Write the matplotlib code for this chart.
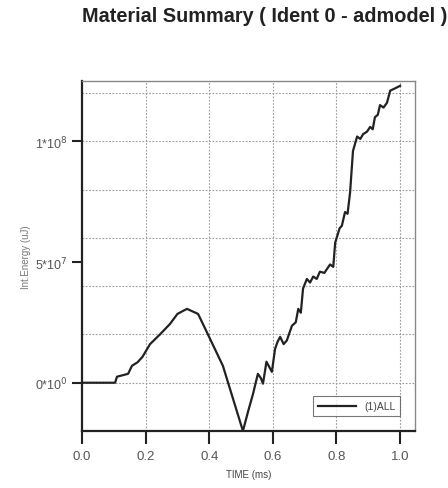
import matplotlib
matplotlib.use("Agg")
import matplotlib.pyplot as plt

time_ms = [0.0, 0.104, 0.11, 0.125, 0.145, 0.157, 0.175, 0.19, 0.214, 0.245, 0.277, 0.30,
           0.33, 0.365, 0.396, 0.443, 0.506,
           0.522, 0.538, 0.553, 0.562, 0.569, 0.58, 0.597, 0.607, 0.615, 0.623, 0.634, 0.644,
           0.66, 0.672, 0.68, 0.688, 0.695, 0.707, 0.717, 0.727, 0.738, 0.748, 0.762, 0.78, 0.79, 0.796,
           0.81, 0.817, 0.827, 0.835, 0.843, 0.852, 0.865, 0.875, 0.884, 0.896, 0.906, 0.914, 0.921, 0.93,
           0.937, 0.948, 0.959, 0.969, 0.985, 1.0]
energy_uJ = [0.0, 0.0, 0.25e7, 0.3e7, 0.37e7, 0.7e7, 0.85e7, 1.07e7, 1.6e7, 2.0e7, 2.44e7, 2.85e7,
             3.06e7, 2.85e7, 2.0e7, 0.7e7, -2.0e7,
             -1.2e7, -0.45e7, 0.37e7, 0.2e7, -0.04e7, 0.87e7, 0.45e7, 1.4e7, 1.7e7, 1.9e7, 1.6e7, 1.75e7,
             2.36e7, 2.5e7, 3.06e7, 2.9e7, 3.9e7, 4.3e7, 4.15e7, 4.4e7, 4.3e7, 4.6e7, 4.55e7, 4.9e7, 4.8e7, 5.8e7,
             6.4e7, 6.5e7, 7.07e7, 7.0e7, 7.9e7, 9.6e7, 10.2e7, 10.1e7, 10.3e7, 10.4e7, 10.6e7, 10.5e7, 11.0e7, 11.1e7,
             11.5e7, 11.4e7, 11.6e7, 12.1e7, 12.2e7, 12.3e7]

x_ticks = [0.0, 0.2, 0.4, 0.6, 0.8, 1.0]
x_tick_labels = ["0.0", "0.2", "0.4", "0.6", "0.8", "1.0"]
y_ticks = [0.0, 5e7, 1e8]
y_tick_labels = [r"0*10$^{0}$", r"5*10$^{7}$", r"1*10$^{8}$"]
y_grid = [0.0, 2e7, 4e7, 6e7, 8e7, 10e7, 12e7]
x_grid = [0.2, 0.4, 0.6, 0.8, 1.0]

plt.rcParams['font.family'] = ['Liberation Sans', 'DejaVu Sans']

fig = plt.figure(figsize=(4.48, 4.89), dpi=100)
ax = fig.add_axes([82/448, 1-432/489, (415-82)/448, (432-82)/489])

for g in y_grid:
    ax.axhline(g, color='#999999', lw=0.8, ls=(0, (1.5, 1.5)), zorder=1)
for g in x_grid:
    ax.axvline(g, color='#999999', lw=0.8, ls=(0, (1.5, 1.5)), zorder=1)

ax.plot(time_ms, energy_uJ, color='#222222', lw=1.6, label='(1)ALL', zorder=3)

ax.set_xlim(0, 1.047)
ax.set_ylim(-2.0e7, 12.5e7)
ax.set_xticks(x_ticks)
ax.set_xticklabels(x_tick_labels)
ax.set_yticks(y_ticks)
ax.set_yticklabels(y_tick_labels)
ax.tick_params(axis='x', direction='out', length=9, width=1.5, color='#222222',
               labelcolor='#555555', labelsize=9.5, pad=5)
ax.tick_params(axis='y', direction='out', length=7, width=1.5, color='#222222',
               labelcolor='#555555', labelsize=9, pad=3)

for side in ['left', 'bottom']:
    ax.spines[side].set_color('#222222')
    ax.spines[side].set_linewidth(1.6)
for side in ['top', 'right']:
    ax.spines[side].set_color('#888888')
    ax.spines[side].set_linewidth(1.0)

ax.set_xlabel('TIME (ms)', fontsize=7, color='#444444', labelpad=5)
ax.set_ylabel('Int.Energy (uJ)', fontsize=7, color='#777777', labelpad=3)

leg = ax.legend(loc='lower right', fontsize=7.5, frameon=True, fancybox=False,
                edgecolor='#555555', handlelength=3.6, borderaxespad=1.4,
                labelcolor='#444444', borderpad=0.5)
leg.get_frame().set_linewidth(0.8)

fig.text(82/448, 1-17/489, 'Material Summary ( Ident 0 - admodel )', fontsize=14.3,
         fontweight='bold', color='#222222', ha='left', va='center')

fig.savefig('out.png', dpi=100)
